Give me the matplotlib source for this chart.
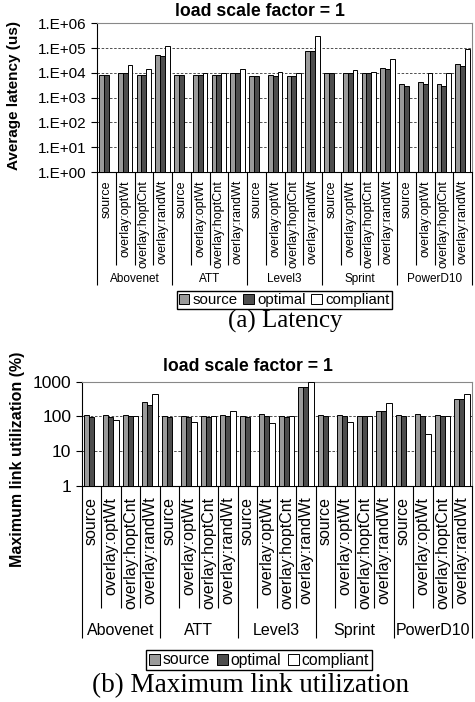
import matplotlib
matplotlib.use("Agg")
import matplotlib.pyplot as plt
import matplotlib.transforms as mtransforms
from matplotlib.patches import Patch
import numpy as np

plt.rcParams["font.family"] = ["Liberation Sans", "DejaVu Sans"]

# ---- data -------------------------------------------------------------
networks = ["Abovenet", "ATT", "Level3", "Sprint", "PowerD10"]
schemes = ["source", "overlay:optWt", "overlay:hoptCnt", "overlay:randWt"]
series_names = ["source", "optimal", "compliant"]
nan = np.nan

latency_source = [8000, 9600, 8000, 53000, 8000, 8000, 8000, 10000,
                  7500, 8300, 7500, 79000, 10000, 10000, 10000, 15900,
                  3600, 4100, 3600, 23000]
latency_optimal = [8000, 10000, 8000, 49000, 8000, 8000, 8000, 10000,
                   7500, 7500, 7500, 79000, 10000, 10000, 10000, 14500,
                   3000, 3400, 3000, 19600]
latency_compliant = [nan, 20000, 14500, 123000, nan, 10000, 9800, 14500,
                     nan, 11000, 9600, 318000, nan, 13200, 11300, 36700,
                     nan, 9600, 9600, 95000]

util_source = [107, 107, 107, 259, 100, 102, 102, 107,
               102, 114, 102, 718, 107, 107, 104, 142,
               112, 114, 112, 316]
util_optimal = [98, 98, 100, 212, 98, 98, 98, 100,
                96, 100, 98, 718, 100, 100, 100, 142,
                100, 100, 102, 316]
util_compliant = [nan, 77, 100, 431, nan, 67, 100, 139,
                  nan, 63, 102, 1000, nan, 70, 102, 237,
                  nan, 31, 102, 440]

latency_ticks = [1e0, 1e1, 1e2, 1e3, 1e4, 1e5, 1e6]
latency_ticklabels = ["1.E+00", "1.E+01", "1.E+02", "1.E+03",
                      "1.E+04", "1.E+05", "1.E+06"]
util_ticks = [1, 10, 100, 1000]
util_ticklabels = ["1", "10", "100", "1000"]

colors = ["#9a9a9a", "#4d4d4d", "#ffffff"]


def draw_panel(ax, series, ticks, ticklabels, ylim, tick_fs, cat_fs, grp_fs,
               cat_len, grp_len, cat_top, grp_y):
    n = len(networks) * len(schemes)
    x = np.arange(n) + 0.5
    w = 0.26
    for k, (vals, c) in enumerate(zip(series, colors)):
        vals = np.asarray(vals, dtype=float)
        ok = ~np.isnan(vals)
        ax.bar(x[ok] + (k - 1) * w, vals[ok], width=w, color=c,
               edgecolor="black", linewidth=0.7, zorder=3)
    ax.set_yscale("log")
    ax.set_ylim(*ylim)
    ax.set_xlim(0, n)
    ax.set_yticks(ticks, ticklabels, fontsize=tick_fs)
    ax.minorticks_off()
    ax.yaxis.grid(True, linestyle=(0, (3, 2)), color="#333333", linewidth=0.6)
    ax.tick_params(axis="y", direction="out", length=4, width=0.8)
    ax.spines["top"].set_color("#888888")
    ax.spines["right"].set_color("#888888")

    # separators below the axis as tick marks
    ax.set_xticks(np.arange(0, n + 1, len(schemes)))
    ax.set_xticks(np.arange(0, n + 1), minor=True)
    ax.tick_params(axis="x", which="major", length=grp_len, width=0.8,
                   labelbottom=False)
    ax.tick_params(axis="x", which="minor", length=cat_len, width=0.8,
                   labelbottom=False)

    trans = mtransforms.blended_transform_factory(ax.transData, ax.transAxes)
    for i in range(n):
        ax.text(x[i], cat_top, schemes[i % len(schemes)], rotation=90,
                ha="center", va="top", fontsize=cat_fs, transform=trans)
    for g, name in enumerate(networks):
        ax.text(g * len(schemes) + len(schemes) / 2, grp_y, name,
                ha="center", va="center", fontsize=grp_fs, transform=trans)


fig = plt.figure(figsize=(4.75, 7.02), dpi=100)

ax1 = fig.add_axes([97 / 475, 1 - 172 / 702, 375 / 475, 148.7 / 702])
draw_panel(ax1, [latency_source, latency_optimal, latency_compliant],
           latency_ticks, latency_ticklabels, (1, 1e6), 11, 9, 8.5,
           93 * 0.72, 113 * 0.72, -8 / 148.7, -107 / 148.7)

ax2 = fig.add_axes([81.7 / 475, 1 - 485.7 / 702, 390 / 475, 104 / 702])
draw_panel(ax2, [util_source, util_optimal, util_compliant],
           util_ticks, util_ticklabels, (1, 1000), 12.5, 11.5, 11.5,
           122 * 0.72, 152 * 0.72, -11 / 104, -145 / 104)

fig.text(260 / 475, 1 - 12 / 702, "load scale factor = 1", ha="center",
         va="center", fontsize=12.7, fontweight="bold")
fig.text(248 / 475, 1 - 367 / 702, "load scale factor = 1", ha="center",
         va="center", fontsize=12.7, fontweight="bold")
fig.text(14 / 475, 1 - 96 / 702, "Average latency (us)", rotation=90,
         ha="center", va="center", fontsize=11, fontweight="bold")
fig.text(18 / 475, 1 - 459 / 702, "Maximum link utilization (%)", rotation=90,
         ha="center", va="center", fontsize=11.5, fontweight="bold")

handles = [Patch(facecolor=c, edgecolor="black", linewidth=0.7) for c in colors]
for center, fs in [((284 / 475, 1 - 300 / 702), 10.8), ((259 / 475, 1 - 660 / 702), 11.3)]:
    fig.legend(handles, series_names, loc="center", bbox_to_anchor=center,
               ncol=3, fontsize=fs, frameon=True, fancybox=False,
               edgecolor="black", framealpha=1, handlelength=0.7,
               handleheight=0.7, handletextpad=0.2, columnspacing=0.4,
               borderpad=0.15, borderaxespad=0)

fig.text(285 / 475, 1 - 321 / 702, "(a) Latency", ha="center", va="center",
         fontsize=18, family="Liberation Serif")
fig.text(251 / 475, 1 - 686 / 702, "(b) Maximum link utilization",
         ha="center", va="center", fontsize=19.5, family="Liberation Serif")

fig.savefig("out.png", dpi=100)
